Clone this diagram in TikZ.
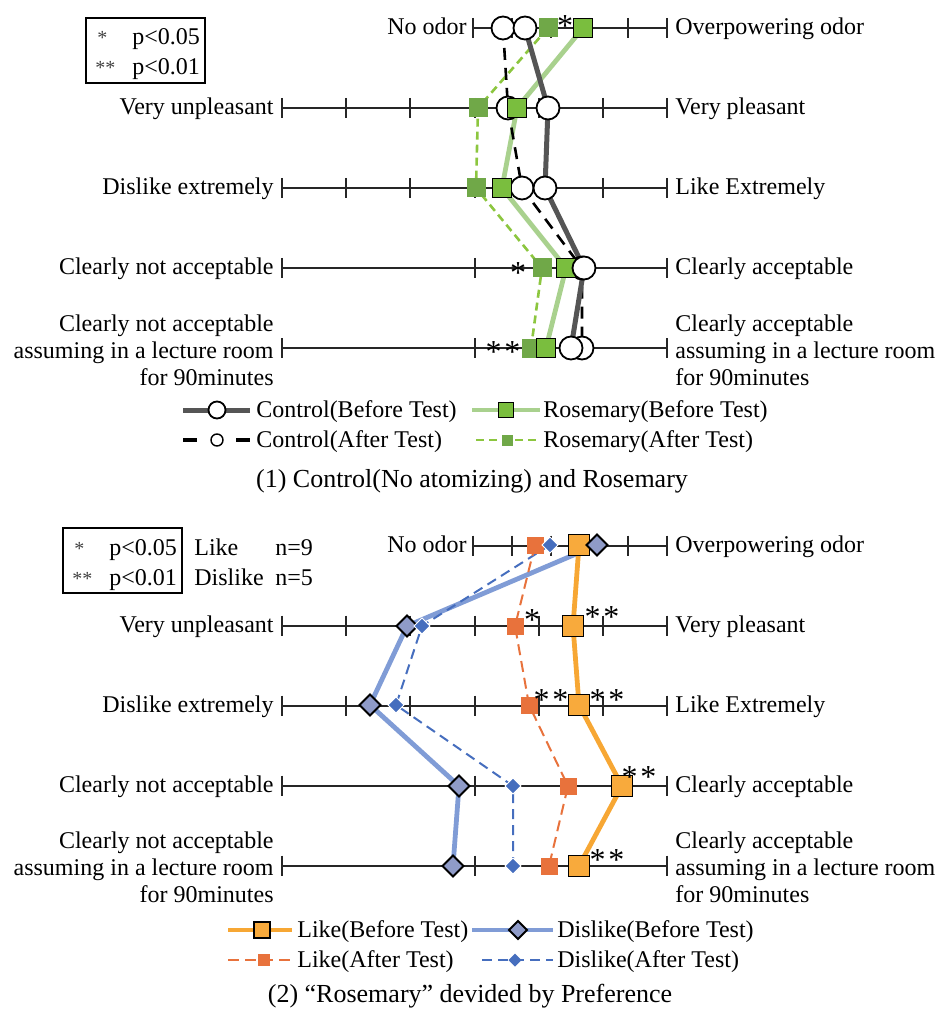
\documentclass[tikz,border=0pt]{standalone}
\usepackage{fontspec}
\setmainfont{Liberation Serif}
\usetikzlibrary{shapes.geometric}

\definecolor{ctrlgray}{RGB}{85,85,85}
\definecolor{roseline}{RGB}{169,209,142}
\definecolor{rosefill}{RGB}{122,190,62}
\definecolor{rosedark}{RGB}{112,168,72}
\definecolor{rosedash}{RGB}{140,198,63}
\definecolor{likeline}{RGB}{247,167,52}
\definecolor{likefill}{RGB}{248,170,60}
\definecolor{likeafter}{RGB}{232,114,60}
\definecolor{disline}{RGB}{128,156,214}
\definecolor{disfill}{RGB}{143,155,200}
\definecolor{disafter}{RGB}{70,110,190}

\tikzset{
  axis/.style={line width=1pt,black!85},
  lbl/.style={inner sep=0pt,text height=8.5pt,text depth=1.5pt},
  mlbl/.style={inner sep=0pt},
  sig/.style={inner sep=0pt,anchor=base,font=\fontsize{16}{16}\selectfont},
  keysig/.style={inner sep=0pt,anchor=base west,font=\fontsize{10}{10}\selectfont,black!75},
  % series lines
  ctrlb/.style={line width=2.5pt,ctrlgray},
  ctrla/.style={line width=1.3pt,black,dash pattern=on 6pt off 4pt},
  roseb/.style={line width=2.4pt,roseline},
  rosea/.style={line width=1.3pt,rosedash,dash pattern=on 4pt off 2.5pt},
  likeb/.style={line width=2.4pt,likeline},
  likea/.style={line width=1pt,likeafter,dash pattern=on 5.5pt off 3pt},
  disb/.style={line width=2.4pt,disline},
  disa/.style={line width=1pt,disafter,dash pattern=on 5pt off 3pt},
  % markers
  mk/.style={inner sep=0pt,outer sep=0pt},
  cmark/.style={mk,circle,draw=black,fill=white,line width=0.9pt,minimum size=11.5pt},
  rbmark/.style={mk,rectangle,draw=black,fill=rosefill,line width=0.9pt,minimum size=9.5pt},
  ramark/.style={mk,rectangle,fill=rosedark,minimum size=9.5pt},
  lbmark/.style={mk,rectangle,draw=black,fill=likefill,line width=0.9pt,minimum size=10.5pt},
  lamark/.style={mk,rectangle,fill=likeafter,minimum size=8.5pt},
  dbmark/.style={mk,diamond,draw=black,fill=disfill,line width=0.9pt,minimum size=10.5pt},
  damark/.style={mk,diamond,fill=disafter,minimum size=8pt},
  keybox/.style={line width=1.4pt},
  caption/.style={font=\fontsize{13}{15}\selectfont}
}

\begin{document}
\begin{tikzpicture}[x=0.5pt,y=-0.5pt,font=\fontsize{12}{13.5}\selectfont]
\useasboundingbox (0,0) rectangle (936,1010);

% the scales, once for each chart
\foreach \dy/\pf in {0/a,517.5/b}{
  \begin{scope}[shift={(0,\dy)}]
    \draw[axis] (473,28) -- (667,28);
    \foreach \tk in {0,...,5}
      \draw[axis] ({473+38.8*\tk},18) -- ++(0,20);
    \foreach \yy in {108,188}{
      \draw[axis] (282,\yy) -- (667,\yy);
      \foreach \tk in {0,...,6}
        \draw[axis] ({282+64.17*\tk},\yy-10) -- ++(0,20);
    }
    \foreach \yy in {268,348}{
      \draw[axis] (282,\yy) -- (667,\yy);
      \foreach \tk in {0,1,2}
        \draw[axis] ({282+192.5*\tk},\yy-10) -- ++(0,20);
    }
    \node[lbl,anchor=east] (\pf l1) at (467,28) {No odor};
    \node[lbl,anchor=east] (\pf l2) at (274,108) {Very unpleasant};
    \node[lbl,anchor=east] (\pf l3) at (274,188) {Dislike extremely};
    \node[lbl,anchor=east] (\pf l4) at (274,268) {Clearly not acceptable};
    \node[mlbl,anchor=east,align=right] (\pf l5) at (274,350)
      {Clearly not acceptable\\assuming in a lecture room\\for 90minutes};
    \node[lbl,anchor=west] (\pf r1) at (675,28) {Overpowering odor};
    \node[lbl,anchor=west] (\pf r2) at (675,108) {Very pleasant};
    \node[lbl,anchor=west] (\pf r3) at (675,188) {Like Extremely};
    \node[lbl,anchor=west] (\pf r4) at (675,268) {Clearly acceptable};
    \node[mlbl,anchor=west,align=left] (\pf r5) at (675,350)
      {Clearly acceptable\\assuming in a lecture room\\for 90minutes};
  \end{scope}
}

% significance keys
\foreach \kx/\ky/\pf in {86/18/a,63/528/b}{
  \draw[keybox] (\kx,\ky) rectangle ++(119,65);
  \node[keysig] (\pf s1) at (\kx+11,\ky+27) {*};
  \node[keysig] (\pf s2) at (\kx+9,\ky+57) {**};
  \node[inner sep=0pt,anchor=base west] (\pf p1) at (\kx+46,\ky+27) {p<0.05};
  \node[inner sep=0pt,anchor=base west] (\pf p2) at (\kx+46,\ky+57) {p<0.01};
}
\node[inner sep=0pt,anchor=base west] (nlike) at (194,555) {Like};
\node[inner sep=0pt,anchor=base west] (nlike9) at (275,555) {n=9};
\node[inner sep=0pt,anchor=base west] (ndis) at (194,585) {Dislike};
\node[inner sep=0pt,anchor=base west] (ndis5) at (275,585) {n=5};

% (1) control and rosemary
\foreach \xx/\yy [count=\i] in {525/28,548/108,545/188,584/268,571/348}
  \coordinate (cb\i) at (\xx,\yy);
\foreach \xx/\yy [count=\i] in {503/28,508/108,522/188,582/268,582/348}
  \coordinate (ca\i) at (\xx,\yy);
\foreach \xx/\yy [count=\i] in {583/28,517/108,502/188,566/268,546/348}
  \coordinate (rb\i) at (\xx,\yy);
\foreach \xx/\yy [count=\i] in {548/28,478/108,476/188,542/268,531/348}
  \coordinate (ra\i) at (\xx,\yy);

\draw[rosea] (ra1) \foreach \i in {2,...,5}{-- (ra\i)};
\draw[roseb] (rb1) \foreach \i in {2,...,5}{-- (rb\i)};
\draw[ctrla] (ca1) \foreach \i in {2,...,5}{-- (ca\i)};
\draw[ctrlb] (cb1) \foreach \i in {2,...,5}{-- (cb\i)};
\foreach \i in {1,...,5} \node[cmark] (cam\i) at (ca\i) {};
\foreach \i in {1,...,5} \node[ramark] (ram\i) at (ra\i) {};
\foreach \i in {1,...,5} \node[rbmark] (rbm\i) at (rb\i) {};
\foreach \i in {1,...,5} \node[cmark] (cbm\i) at (cb\i) {};

\node[sig] (sa1) at (565,37) {*};
\node[sig] (sa2) at (518,284) {*};
\node[sig] (sa3) at (503,362) {*\kern1.5pt*};

% (2) rosemary by preference
\foreach \xx/\yy [count=\i] in {579/545,573/626,579/705,622/786,579/866}
  \coordinate (lb\i) at (\xx,\yy);
\foreach \xx/\yy [count=\i] in {535/545,515/626,529/705,568/786,549/866}
  \coordinate (la\i) at (\xx,\yy);
\foreach \xx/\yy [count=\i] in {597/545,407/626,370/705,459/786,453/866}
  \coordinate (db\i) at (\xx,\yy);
\foreach \xx/\yy [count=\i] in {550/545,422/626,396/705,513/786,513/866}
  \coordinate (da\i) at (\xx,\yy);

\draw[disb] (db1) \foreach \i in {2,...,5}{-- (db\i)};
\draw[disa] (da1) \foreach \i in {2,...,5}{-- (da\i)};
\draw[likea] (la1) \foreach \i in {2,...,5}{-- (la\i)};
\draw[likeb] (lb1) \foreach \i in {2,...,5}{-- (lb\i)};
\foreach \i in {1,...,5} \node[lamark] (lam\i) at (la\i) {};
\foreach \i in {1,...,5} \node[lbmark] (lbm\i) at (lb\i) {};
\foreach \i in {1,...,5} \node[dbmark] (dbm\i) at (db\i) {};
\foreach \i in {1,...,5} \node[damark,draw=white,line width=0.4pt] (dam\i) at (da\i) {};

\node[sig] (sb1) at (532,630) {*};
\node[sig] (sb2) at (602,627) {*\kern1.5pt*};
\node[sig] (sb3) at (551,710) {*\kern1.5pt*};
\node[sig] (sb4) at (607,710) {*\kern1.5pt*};
\node[sig] (sb5) at (639,787) {*\kern1.5pt*};
\node[sig] (sb6) at (607,870) {*\kern1.5pt*};

% legend (1)
\draw[ctrlb] (183,410) -- (250,410);
\node[cmark,minimum size=8.5pt] (lgcb) at (217,410) {};
\node[lbl,anchor=west] (tcb) at (256,410) {Control(Before Test)};
\draw[roseb] (472,410) -- (540,410);
\node[rbmark,minimum size=7.5pt] (lgrb) at (506,410) {};
\node[lbl,anchor=west] (trb) at (543,410) {Rosemary(Before Test)};
\draw[line width=1.6pt,dash pattern=on 7pt off 19.5pt] (183,440) -- (250,440);
\node[cmark,minimum size=6pt,line width=0.7pt] (lgca) at (217,440) {};
\node[lbl,anchor=west] (tca) at (256,440) {Control(After Test)};
\draw[rosea] (476,440) -- (540,440);
\node[ramark,minimum size=5.5pt] (lgra) at (507,440) {};
\node[lbl,anchor=west] (tra) at (543,440) {Rosemary(After Test)};
\node[caption] (cap1) at (472,481) {(1) Control(No atomizing) and Rosemary};

% legend (2)
\draw[likeb] (228,930) -- (292,930);
\node[lbmark,minimum size=8pt] (lglb) at (262,930) {};
\node[lbl,anchor=west] (tlb) at (297,930) {Like(Before Test)};
\draw[disb] (472,930) -- (553,930);
\node[dbmark,minimum size=9pt] (lgdb) at (518,930) {};
\node[lbl,anchor=west] (tdb) at (557,930) {Dislike(Before Test)};
\draw[likea] (228,960) -- (292,960);
\node[lamark,minimum size=6pt] (lgla) at (264,960) {};
\node[lbl,anchor=west] (tla) at (297,960) {Like(After Test)};
\draw[disa] (482,960) -- (553,960);
\node[damark,minimum size=6.5pt] (lgda) at (515,960) {};
\node[lbl,anchor=west] (tda) at (557,960) {Dislike(After Test)};
\node[caption] (cap2) at (470,996) {(2) “Rosemary” devided by Preference};

\end{tikzpicture}
\end{document}
